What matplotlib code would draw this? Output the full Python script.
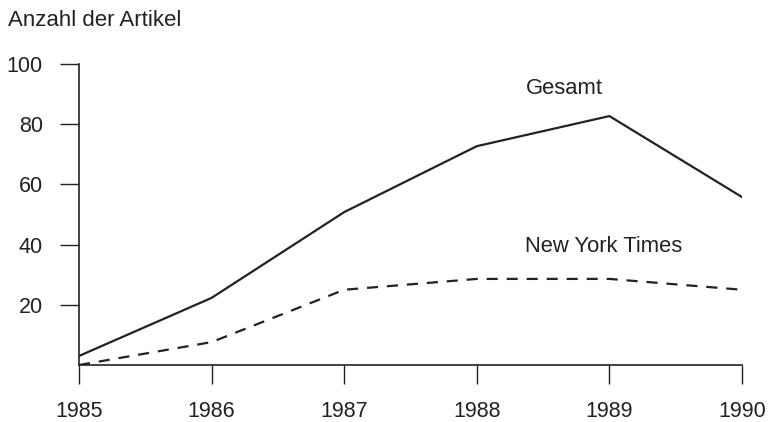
import matplotlib
matplotlib.use("Agg")
import matplotlib.pyplot as plt

# Data
years = [1985, 1986, 1987, 1988, 1989, 1990]
gesamt = [3, 22.3, 50.8, 72.7, 82.7, 55.8]
nyt = [0, 7.6, 25, 28.6, 28.6, 25]
y_ticks = [20, 40, 60, 80, 100]

plt.rcParams['font.family'] = ['Liberation Sans', 'DejaVu Sans']
ink = '#222222'

fig = plt.figure(figsize=(7.69, 4.22), dpi=100)
ax = fig.add_axes([79/769, 1 - 365/422, (742 - 79)/769, (365 - 64)/422])

ax.plot(years, gesamt, color=ink, lw=1.6)
ax.plot(years, nyt, color=ink, lw=1.6, ls=(0, (5, 4)))

ax.set_xlim(1985, 1990)
ax.set_ylim(0, 100)
ax.set_xticks(years)
ax.set_yticks(y_ticks)

for s in ['top', 'right']:
    ax.spines[s].set_visible(False)
for s in ['left', 'bottom']:
    ax.spines[s].set_linewidth(1.2)
    ax.spines[s].set_color(ink)

ax.tick_params(axis='both', length=14, width=1.0, color=ink, labelsize=15.5, labelcolor=ink)
ax.tick_params(axis='y', pad=12)
ax.tick_params(axis='x', pad=12)

ax.text(1988.66, 92, 'Gesamt', ha='center', va='center', fontsize=15.8, color=ink)
ax.text(1988.96, 39.5, 'New York Times', ha='center', va='center', fontsize=15.8, color=ink)

fig.text(8/769, 1 - 20/422, 'Anzahl der Artikel', ha='left', va='center', fontsize=16, color=ink)

fig.savefig('out.png', dpi=100)
